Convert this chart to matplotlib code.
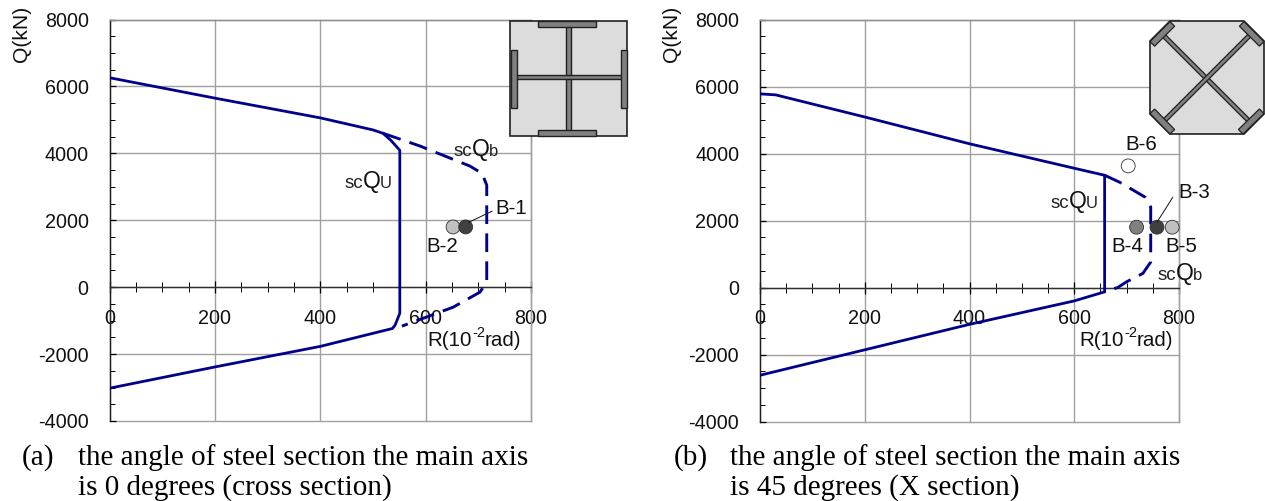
import matplotlib
matplotlib.use('Agg')
import matplotlib.pyplot as plt
from matplotlib.patches import Polygon, Rectangle
import numpy as np

W, H = 1265, 501
plt.rcParams['font.family'] = ['Liberation Sans', 'DejaVu Sans']

x_major = [0, 200, 400, 600, 800]
y_major = [-4000, -2000, 0, 2000, 4000, 6000, 8000]
y_labels = ['-4000', '-2000', '0', '2000', '4000', '6000', '8000']

# Panel (a)
a_qu_r = [0, 200, 400, 500, 519, 534, 551, 551, 551, 542, 537, 400, 200, 0]
a_qu_q = [6260, 5650, 5060, 4700, 4600, 4390, 4090, 1000, -780, -1135, -1235, -1770, -2385, -3020]
a_qb_r = [519, 589, 684, 707, 716, 716, 703, 652, 555]
a_qb_q = [4600, 4220, 3620, 3400, 3050, 150, -150, -600, -1165]
a_pts_r = [652, 676]
a_pts_q = [1800, 1800]
a_pts_c = ['#c0c0c0', '#404040']

# Panel (b)
b_qu_r = [0, 30, 200, 400, 600, 658, 658, 658, 600, 400, 200, 0]
b_qu_q = [5780, 5750, 5090, 4290, 3560, 3350, 1000, -130, -400, -1100, -1860, -2620]
b_qb_r = [658, 687, 735, 746, 746, 731, 700, 683, 658]
b_qb_q = [3350, 3140, 2700, 2400, 760, 420, 170, 0, -130]
b_pts_r = [719, 787, 758, 703]
b_pts_q = [1800, 1800, 1800, 3630]
b_pts_c = ['#808080', '#c0c0c0', '#404040', '#ffffff']

NAVY = '#00008b'
TICK_FS = 14.2
LAB_FS = 14.8
fig = plt.figure(figsize=(W / 100, H / 100), dpi=100)


def axes_px(l, t, r, b, **kw):
    return fig.add_axes([l / W, 1 - b / H, (r - l) / W, (b - t) / H], **kw)


def txt(x, y, s, **kw):
    kw.setdefault('fontsize', LAB_FS)
    kw.setdefault('color', '#111111')
    fig.text(x / W, 1 - y / H, s, **kw)


def panel(box, qu_r, qu_q, qb_r, qb_q, pr, pq, pc):
    ax = axes_px(*box)
    ax.set_xlim(0, 800)
    ax.set_ylim(-4000, 8000)
    ax.set_xticks(x_major)
    ax.set_xticks(np.arange(0, 801, 50), minor=True)
    ax.set_yticks(y_major)
    ax.set_yticklabels(y_labels)
    ax.set_yticks(np.arange(-4000, 8001, 500), minor=True)
    ax.grid(True, which='major', color='#a0a0a0', lw=1.0, clip_on=False)
    ax.set_axisbelow(True)
    ax.spines['bottom'].set_position(('data', 0))
    ax.spines['bottom'].set_color('#303030')
    ax.spines['left'].set_color('#202020')
    ax.spines['top'].set_color('#909090')
    ax.spines['right'].set_color('#a0a0a0')
    for s in ax.spines.values():
        s.set_linewidth(1.0)
    ax.tick_params(axis='x', which='major', direction='inout', length=8.9, width=0.9, pad=11, labelsize=TICK_FS, labelcolor='#111111')
    ax.tick_params(axis='x', which='minor', direction='inout', length=6.8, width=0.7)
    ax.tick_params(axis='y', which='major', direction='in', length=4.3, width=0.9, pad=15, labelsize=TICK_FS, labelcolor='#111111')
    ax.tick_params(axis='y', which='minor', direction='in', length=3.6, width=0.7)
    ax.plot(qu_r, qu_q, color=NAVY, lw=2.0, zorder=3, solid_joinstyle='round')
    ax.plot(qb_r, qb_q, color=NAVY, lw=2.1, dashes=(6.4, 3.2), zorder=3)
    ax.scatter(pr, pq, s=100, c=pc, edgecolors='#303030', linewidths=0.6, zorder=4, clip_on=False)
    return ax


axa = panel((109.5, 19.5, 531, 421), a_qu_r, a_qu_q, a_qb_r, a_qb_q, a_pts_r, a_pts_q, a_pts_c)
axb = panel((760, 19.5, 1179, 421.5), b_qu_r, b_qu_q, b_qb_r, b_qb_q, b_pts_r, b_pts_q, b_pts_c)

axa.plot([682, 726], [1940, 2270], color='#111111', lw=0.7, zorder=5)
axb.plot([758, 788], [1950, 2690], color='#111111', lw=0.7, zorder=5)

# Axis names
txt(21, 33.5, 'Q(kN)', rotation=90, ha='center', va='center', fontsize=15.2)
txt(672, 33.5, 'Q(kN)', rotation=90, ha='center', va='center', fontsize=15.2)
for dx in (0, 652):
    txt(427 + dx, 346, 'R(10', va='baseline')
    txt(472.5 + dx, 337, '-2', va='baseline', fontsize=10.5)
    txt(485 + dx, 346, 'rad)', va='baseline')


def strength(x, base, sub):
    txt(x, base, 'sc', va='baseline', fontsize=13.5, color='#222222')
    txt(x + 17.5, base, 'Q', va='baseline', fontsize=16.5)
    txt(x + 35, base, sub, va='baseline', fontsize=12, color='#222222')


strength(454, 156, 'b')
strength(345, 188, 'U')
strength(1051, 208, 'U')
strength(1158, 280, 'b')

txt(495, 209, 'B-1', va='center')
txt(426, 246, 'B-2', va='center')
txt(1178, 193, 'B-3', va='center')
txt(1111, 246, 'B-4', va='center')
txt(1165, 246, 'B-5', va='center')
txt(1125, 144, 'B-6', va='center')

# Captions
cap = dict(family=['Liberation Serif'], fontsize=21, color='#000000', va='baseline')
txt(21.5, 465, '(a)', **cap)
txt(78, 465, 'the angle of steel section the main axis', **cap)
txt(78, 495, 'is 0 degrees (cross section)', **cap)
txt(674, 465, '(b)', **cap)
txt(730, 465, 'the angle of steel section the main axis', **cap)
txt(730, 495, 'is 45 degrees (X section)', **cap)

# Section sketches: an overlay axes in pixel units
ov = fig.add_axes([0, 0, 1, 1], zorder=10)
ov.set_xlim(0, W)
ov.set_ylim(H, 0)
ov.axis('off')
ov.patch.set_alpha(0)
GREY, STEEL, EDGE = '#dcdcdc', '#808080', '#202020'


def rect(x0, y0, x1, y1, fc=STEEL, lw=1.0):
    ov.add_patch(Rectangle((x0, y0), x1 - x0, y1 - y0, fc=fc, ec=EDGE, lw=lw))


rect(510, 20.5, 627, 136, fc=GREY, lw=1.2)
rect(566, 25, 571, 131)
rect(515, 75, 622, 79)
rect(537.5, 20.5, 596, 26.5)
rect(537.5, 130, 596, 136)
rect(510.5, 49.5, 516.5, 107.5)
rect(620.5, 49.5, 626.5, 107.5)


def bar(p0, p1, w, fc=STEEL, lw=0.9):
    p0, p1 = np.array(p0, float), np.array(p1, float)
    d = p1 - p0
    n = np.array([-d[1], d[0]]) / np.hypot(*d) * w / 2
    ov.add_patch(Polygon([p0 + n, p1 + n, p1 - n, p0 - n], closed=True, fc=fc, ec=EDGE, lw=lw))


ov.add_patch(Polygon([(1170, 21), (1244, 21), (1264, 41), (1264, 114), (1244, 134), (1170, 134), (1150, 114), (1150, 41)],
                     closed=True, fc=GREY, ec=EDGE, lw=1.2))
bar((1162, 34), (1251, 123), 4)
bar((1251, 34), (1162, 123), 4)
bar((1152.3, 43.9), (1172.3, 23.9), 6.5)
bar((1241.7, 23.9), (1261.7, 43.9), 6.5)
bar((1152.3, 111.3), (1172.3, 131.8), 6.5)
bar((1240.7, 131.8), (1261.7, 111.3), 6.5)

fig.savefig('out.png', dpi=100)
